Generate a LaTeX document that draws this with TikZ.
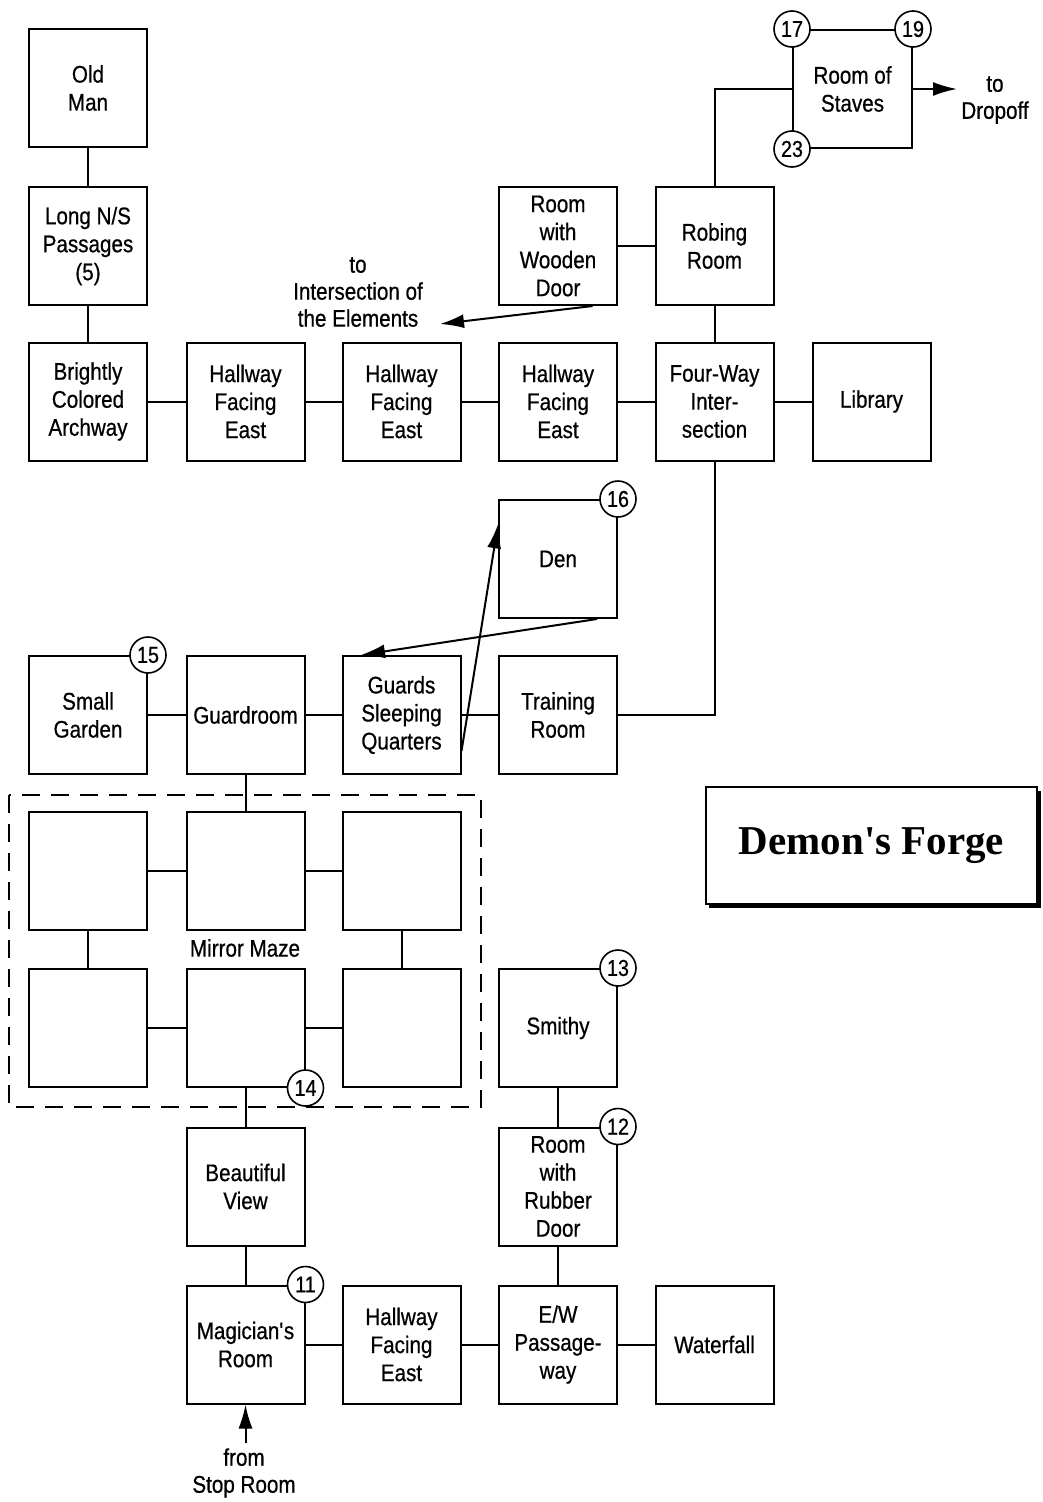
\documentclass[tikz,border=0pt]{standalone}
\usepackage{fontspec}
\setmainfont{Liberation Sans}[FakeStretch=0.86,FakeBold=0.6]
\newfontfamily\titlefont{Liberation Serif}
\usetikzlibrary{arrows.meta}
\begin{document}
\begin{tikzpicture}[x=1pt,y=-1pt,
 room/.style={draw, line width=2pt, minimum width=118pt, minimum height=118pt, inner sep=0pt, align=center, font=\fontsize{24}{28}\selectfont, fill=white},
 num/.style={circle, draw, line width=1.6pt, fill=white, minimum size=36pt, inner sep=0pt, font=\fontsize{23}{24}\selectfont},
 link/.style={line width=2pt},
 arr/.style={line width=2pt, -{Latex[length=24pt,width=14pt]}},
 lbl/.style={align=center, font=\fontsize{24}{27}\selectfont, inner sep=0pt}]
\useasboundingbox (0,0) rectangle (1042,1502);
\fill[white] (0,0) rectangle (1042,1502);
% rows
\node[room] (old) at (88,88) {Old\\Man};
\node[room, minimum width=119pt] (staves) at (852.5,89) {Room of\\Staves};
\node[room] (lns) at (88,246) {Long N/S\\Passages\\(5)};
\node[room] (wood) at (558,246) {Room\\with\\Wooden\\Door};
\node[room] (robing) at (714.5,246) {Robing\\Room};
\node[room] (arch) at (88,401.5) {Brightly\\Colored\\Archway};
\node[room] (h1) at (245.5,401.5) {Hallway\\Facing\\East};
\node[room] (h2) at (401.5,401.5) {Hallway\\Facing\\East};
\node[room] (h3) at (558,401.5) {Hallway\\Facing\\East};
\node[room] (four) at (714.5,401.5) {Four-Way\\Inter-\\section};
\node[room] (lib) at (871.5,401.5) {Library};
\node[room] (den) at (558,559) {Den};
\node[room] (garden) at (88,715) {Small\\Garden};
\node[room] (guard) at (245.5,715) {Guardroom};
\node[room] (gsq) at (401.5,715) {Guards\\Sleeping\\Quarters};
\node[room] (train) at (558,715) {Training\\Room};
\node[room] (m11) at (88,871) {};
\node[room] (m12) at (245.5,871) {};
\node[room] (m13) at (401.5,871) {};
\node[room] (m21) at (88,1028) {};
\node[room] (m22) at (245.5,1028) {};
\node[room] (m23) at (401.5,1028) {};
\node[room] (smithy) at (558,1028) {Smithy};
\node[room] (view) at (245.5,1186.5) {Beautiful\\View};
\node[room] (rubber) at (558,1186.5) {Room\\with\\Rubber\\Door};
\node[room] (mag) at (245.5,1344.5) {Magician\textquotesingle s\\Room};
\node[room] (h4) at (401.5,1344.5) {Hallway\\Facing\\East};
\node[room] (ew) at (558,1344.5) {E/W\\Passage-\\way};
\node[room] (water) at (714.5,1344.5) {Waterfall};
% maze frame
\draw[line width=2pt, dash pattern=on 18pt off 11pt] (9,795) rectangle (481,1107);
\node[lbl] (maze) at (245,948) {Mirror Maze};
% labels
\node[lbl] (elem) at (358,292) {to\\Intersection of\\the Elements};
\coordinate (elemTip) at (440,324);
\node[lbl] (drop) at (995,100) {to\\Dropoff};
\coordinate (dropTip) at (957,89);
\node[lbl] (stop) at (244,1473) {from\\Stop Room};
\coordinate (stopStart) at (245.5,1443);
% title
\fill[black] (709,791) rectangle (1041,908);
\node[draw, line width=2pt, fill=white, minimum width=331pt, minimum height=117pt, inner sep=0pt, font=\titlefont\bfseries\fontsize{41}{43}\selectfont] (title) at (871.5,845.5) {Demon's Forge};
% connectors
\draw[link] (old) -- (lns);
\draw[link] (lns) -- (arch);
\draw[link] (arch) -- (h1);
\draw[link] (h1) -- (h2);
\draw[link] (h2) -- (h3);
\draw[link] (h3) -- (four);
\draw[link] (four) -- (lib);
\draw[link] (wood) -- (robing);
\draw[link] (robing) -- (four);
\draw[link] (robing.north) |- (staves.west);
\draw[link] (four.south) |- (train.east);
\draw[link] (garden) -- (guard);
\draw[link] (guard) -- (gsq);
\draw[link] (gsq) -- (train);
\draw[link] (guard) -- (m12);
\draw[link] (m11) -- (m12);
\draw[link] (m12) -- (m13);
\draw[link] (m11) -- (m21);
\draw[link] (m13) -- (m23);
\draw[link] (m21) -- (m22);
\draw[link] (m22) -- (m23);
\draw[link] (m22) -- (view);
\draw[link] (view) -- (mag);
\draw[link] (smithy) -- (rubber);
\draw[link] (rubber) -- (ew);
\draw[link] (mag) -- (h4);
\draw[link] (h4) -- (ew);
\draw[link] (ew) -- (water);
\draw[arr] (wood.-60) -- (elemTip);
\draw[arr] (den.-57) -- (gsq.124);
\draw[arr] (gsq.-31) -- (den.150);
\draw[arr] (staves.east) -- (dropTip);
\draw[arr] (stopStart) -- (mag.south);
% numbers
\node[num] (n17) at (staves.north west) {17};
\node[num] (n19) at (staves.north east) {19};
\node[num] (n23) at (staves.south west) {23};
\node[num] (n16) at (den.north east) {16};
\node[num] (n15) at (garden.north east) {15};
\node[num] (n14) at (m22.south east) {14};
\node[num] (n13) at (smithy.north east) {13};
\node[num] (n12) at (rubber.north east) {12};
\node[num] (n11) at (mag.north east) {11};
\end{tikzpicture}
\end{document}
